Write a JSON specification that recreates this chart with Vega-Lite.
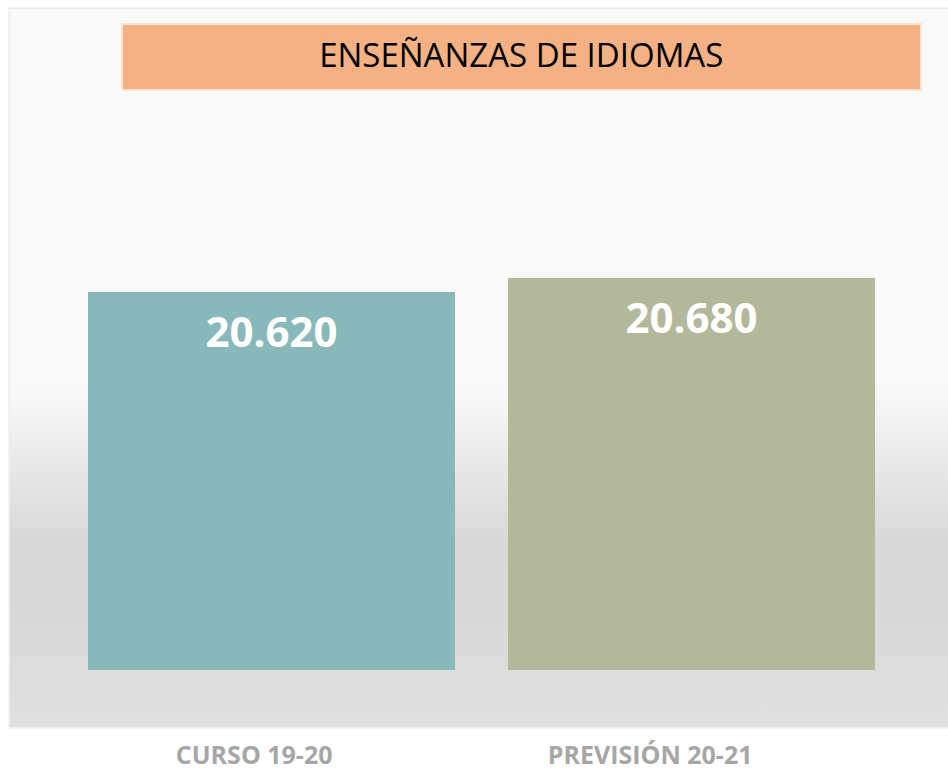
{
  "$schema": "https://vega.github.io/schema/vega-lite/v6.json",
  "width": 938,
  "height": 718,
  "autosize": {"type": "none"},
  "padding": {"left": 10, "top": 9, "right": 0, "bottom": 42},
  "background": "#ffffff",
  "config": {
    "view": {"stroke": "#ececec", "strokeWidth": 3},
    "locale": {"number": {"decimal": ",", "thousands": ".", "grouping": [3], "currency": ["", " €"]}}
  },
  "resolve": {"scale": {"x": "independent", "y": "independent"}, "axis": {"x": "independent", "y": "independent"}},
  "layer": [
    {
      "data": {"values": [{"fondo": 1}]},
      "mark": {
        "type": "rect",
        "fill": {
          "gradient": "linear", "x1": 0, "y1": 0, "x2": 0, "y2": 1,
          "stops": [
            {"offset": 0, "color": "#f9f9f9"},
            {"offset": 0.53, "color": "#f9f9f9"},
            {"offset": 0.62, "color": "#ebebeb"},
            {"offset": 0.74, "color": "#d8d8d8"},
            {"offset": 0.86, "color": "#d9d9d9"},
            {"offset": 1, "color": "#e0e0e0"}
          ]
        }
      },
      "encoding": {}
    },
    {
      "data": {"values": [
        {"curso": "CURSO 19-20", "alumnos": 20620},
        {"curso": "PREVISIÓN 20-21", "alumnos": 20680}
      ]},
      "encoding": {
        "x": {
          "field": "curso", "type": "nominal", "sort": null,
          "scale": {"range": [15, 928], "paddingInner": 0.12619, "paddingOuter": 0.15},
          "axis": {
            "title": null, "domain": false, "ticks": false, "labelAngle": 0,
            "labelFont": "Open Sans", "labelFontWeight": "bold", "labelFontSize": 25,
            "labelColor": "#a6a6a6", "labelPadding": 16, "labelAlign": "right", "labelOffset": 61,
            "labelLimit": 400
          }
        },
        "y": {
          "field": "alumnos", "type": "quantitative",
          "scale": {"domain": [18755.7, 21832.9], "nice": false, "zero": false},
          "axis": null
        }
      },
      "layer": [
        {
          "mark": {"type": "bar"},
          "encoding": {
            "y2": {"datum": 19000},
            "color": {"field": "curso", "type": "nominal", "sort": null, "scale": {"range": ["#88b8b9", "#b3b89b"]}, "legend": null}
          }
        },
        {
          "mark": {"type": "text", "font": "Open Sans", "fontWeight": "bold", "fontSize": 42, "color": "#ffffff", "baseline": "alphabetic", "dy": 55},
          "encoding": {"text": {"field": "alumnos", "type": "quantitative", "format": ",d"}}
        }
      ]
    },
    {
      "data": {"values": [{"titulo": "ENSEÑANZAS DE IDIOMAS"}]},
      "layer": [
        {
          "mark": {"type": "rect", "color": "#f4b183", "stroke": "#fde4d0", "strokeWidth": 2},
          "encoding": {
            "x": {"datum": 11.94, "type": "quantitative", "scale": {"domain": [0, 100], "nice": false}, "axis": null},
            "x2": {"datum": 97.12},
            "y": {"datum": 97.9, "type": "quantitative", "scale": {"domain": [0, 100], "nice": false}, "axis": null},
            "y2": {"datum": 88.72}
          }
        },
        {
          "mark": {"type": "text", "font": "Open Sans", "fontSize": 33, "color": "#000000", "baseline": "alphabetic", "align": "center"},
          "encoding": {
            "x": {"datum": 54.5, "type": "quantitative", "scale": {"domain": [0, 100], "nice": false}, "axis": null},
            "y": {"datum": 91.92, "type": "quantitative", "scale": {"domain": [0, 100], "nice": false}, "axis": null},
            "text": {"field": "titulo", "type": "nominal"}
          }
        }
      ]
    }
  ]
}
